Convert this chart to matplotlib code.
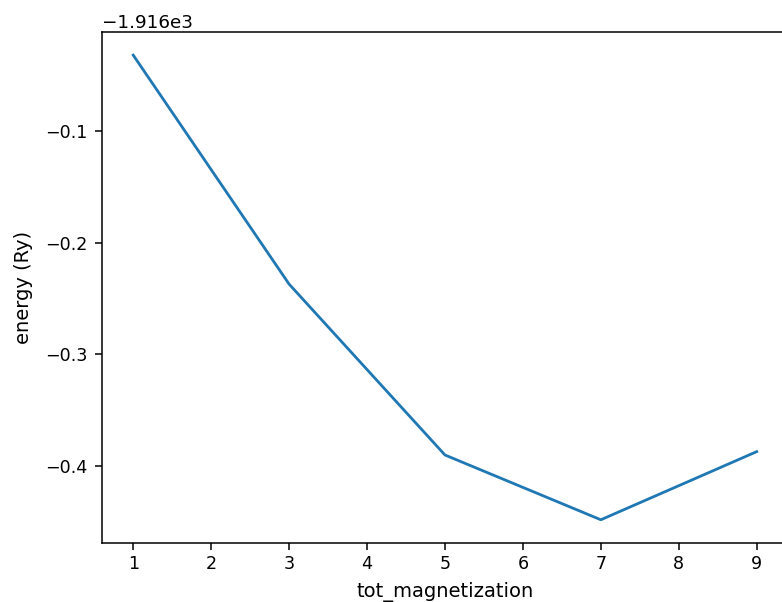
import matplotlib
matplotlib.use("Agg")
import matplotlib.pyplot as plt

# tot_magnetization vs total energy (Ry)
tot_magnetization = [1, 3, 5, 7, 9]
energy = [-1916.032, -1916.237, -1916.390, -1916.448, -1916.387]

fig = plt.figure(figsize=(7.82, 6.02), dpi=100)
# the right spine sits just past the right edge of the image
ax = fig.add_axes([0.1305, 0.098, 0.877, 0.849])

ax.plot(tot_magnetization, energy, color='#1f77b4', linewidth=2.0)
ax.set_xlabel('tot_magnetization', fontsize=14, labelpad=6.5)
ax.set_ylabel('energy (Ry)', fontsize=14, labelpad=9)
ax.tick_params(labelsize=12.6, length=5, width=1.1)
ax.tick_params(axis='y', pad=5.5)
ax.tick_params(axis='x', pad=3.5)
ax.yaxis.get_offset_text().set_fontsize(13.2)
for s in ax.spines.values():
    s.set_linewidth(1.1)

fig.savefig('out.png', dpi=100)
